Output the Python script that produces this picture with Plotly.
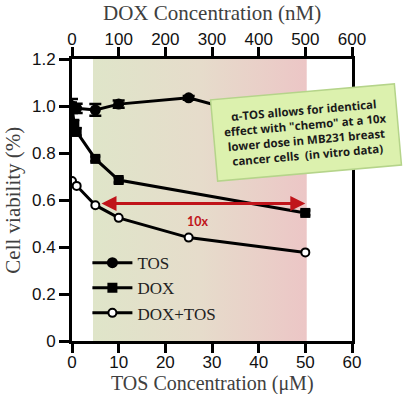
import plotly.graph_objects as go

# ---- data ----
tos_x = [0, 1, 5, 10, 25, 50]
tos_y = [1.0, 0.99, 0.983, 1.008, 1.035, 0.90]
tos_err = [0.03, 0.02, 0.025, 0.015, 0.008, 0.01]

dox_x = [0, 0.5, 1, 5, 10, 50]          # DOX nM / 10 (shared scale with top axis)
dox_y = [0.995, 0.92, 0.89, 0.775, 0.685, 0.545]
dox_err = [0.02, 0.02, 0.015, 0.01, 0.01, 0.01]

combo_x = [0, 1, 5, 10, 25, 50]
combo_y = [0.681, 0.66, 0.578, 0.524, 0.44, 0.377]

shade_x = [4.5, 50.3, 50.3, 4.5]
shade_y = [0, 0, 1.2, 1.2]

arrow_from = (6.0, 0.585)
arrow_to = (50.0, 0.585)
label_10x = (27, 0.507)
callout_pos = (0.835, 0.74)  # paper coords (centre)

bottom_ticks = [0, 10, 20, 30, 40, 50, 60]
top_ticks = [0, 100, 200, 300, 400, 500, 600]
y_ticks = [0, 0.2, 0.4, 0.6, 0.8, 1.0, 1.2]
y_ticklabels = ["0", "0.2", "0.4", "0.6", "0.8", "1.0", "1.2"]

x_title = "TOS Concentration (μM)"
x2_title = "DOX Concentration (nM)"
y_title = "Cell viability (%)"

fig = go.Figure()

fig.add_trace(go.Scatter(
    x=shade_x, y=shade_y, fill="toself", mode="none",
    fillgradient=dict(type="horizontal",
                      colorscale=[[0, "#dfe5c9"], [0.5, "#e6dccb"], [1, "#ecc6c6"]]),
    showlegend=False, hoverinfo="skip"))

line_style = dict(color="black", width=3)

fig.add_trace(go.Scatter(
    x=tos_x, y=tos_y, name="TOS", mode="lines+markers",
    line=line_style, marker=dict(symbol="circle", size=11, color="black"),
    error_y=dict(type="data", array=tos_err, color="black", thickness=2.5, width=6)))

fig.add_trace(go.Scatter(
    x=dox_x, y=dox_y, name="DOX", mode="lines+markers",
    line=line_style, marker=dict(symbol="square", size=10, color="black"),
    error_y=dict(type="data", array=dox_err, color="black", thickness=2.5, width=5)))

fig.add_trace(go.Scatter(
    x=combo_x, y=combo_y, name="DOX+TOS", mode="lines+markers",
    line=line_style,
    marker=dict(symbol="circle", size=8, color="white", line=dict(color="black", width=2))))

# dummy trace to activate top axis
fig.add_trace(go.Scatter(x=[0, 600], y=[None, None], xaxis="x2", showlegend=False,
                         hoverinfo="skip"))

# red double arrow
fig.add_annotation(x=arrow_to[0], y=arrow_to[1], ax=arrow_from[0], ay=arrow_from[1],
                   xref="x", yref="y", axref="x", ayref="y", text="",
                   showarrow=True, arrowhead=2, startarrowhead=2, arrowside="end+start",
                   arrowsize=1, startarrowsize=1, arrowwidth=3, arrowcolor="#c0141a")
fig.add_annotation(x=label_10x[0], y=label_10x[1], xref="x", yref="y", text="<b>10x</b>",
                   showarrow=False, font=dict(family="Lato", size=12.5, color="#c0141a"))

# callout box
fig.add_annotation(
    x=callout_pos[0], y=callout_pos[1], xref="paper", yref="paper", showarrow=False,
    xanchor="center", yanchor="middle",
    text="α-TOS allows for identical<br>effect with \"chemo\" at a 10x<br>"
         "lower dose in MB231 breast<br>cancer cells  (in vitro data)",
    textangle=-5, align="center",
    font=dict(family="Open Sans", size=11.5, color="#1a1a1a", weight=700),
    bgcolor="#dcf1ae", bordercolor="#b5d48a", borderwidth=1.5, borderpad=10)

tick_font = dict(family="Liberation Sans", size=17, color="#111")
title_font = dict(family="Liberation Serif", size=21, color="#404040")
bottom_title_font = dict(family="Liberation Serif", size=20, color="#404040")

# axis titles as annotations for precise placement
fig.add_annotation(x=0.5, y=1.163, xref="paper", yref="paper", text=x2_title,
                   showarrow=False, xanchor="center", yanchor="middle", font=title_font)
fig.add_annotation(x=0.5, y=-0.149, xref="paper", yref="paper", text=x_title,
                   showarrow=False, xanchor="center", yanchor="middle",
                   font=bottom_title_font)
fig.add_annotation(x=-0.212, y=0.5, xref="paper", yref="paper", text=y_title,
                   showarrow=False, xanchor="center", yanchor="middle", textangle=-90,
                   font=title_font)

fig.update_layout(
    width=411, height=394,
    margin=dict(l=72, r=59, t=59, b=53, autoexpand=False),
    paper_bgcolor="white", plot_bgcolor="white",
    showlegend=True,
    legend=dict(x=0.055, y=0.34, xanchor="left", yanchor="top",
                font=dict(family="Liberation Serif", size=17, color="#222"),
                bgcolor="rgba(0,0,0,0)", tracegroupgap=0, itemwidth=40),
    xaxis=dict(range=[0, 60], tickvals=bottom_ticks, ticks="outside", ticklen=9,
               tickwidth=3, tickcolor="black", showline=True, linecolor="black",
               linewidth=3, showgrid=False, zeroline=False, tickfont=tick_font,
               automargin=False, ticklabelstandoff=-5),
    xaxis2=dict(range=[0, 600], tickvals=top_ticks, overlaying="x", side="top",
                ticks="outside", ticklen=9, tickwidth=3, tickcolor="black",
                showline=True, linecolor="black", linewidth=3, showgrid=False,
                zeroline=False, tickfont=tick_font, automargin=False,
                ticklabelstandoff=-5),
    yaxis=dict(range=[0, 1.2], tickvals=y_ticks, ticktext=y_ticklabels, ticks="outside",
               ticklen=10, tickwidth=3, tickcolor="black", showline=True,
               linecolor="black", linewidth=3, mirror=True, showgrid=False,
               zeroline=False, tickfont=tick_font, automargin=False),
)

fig.write_html("out.html", config={"displayModeBar": False},
               post_script="document.body.style.margin='0px';")
